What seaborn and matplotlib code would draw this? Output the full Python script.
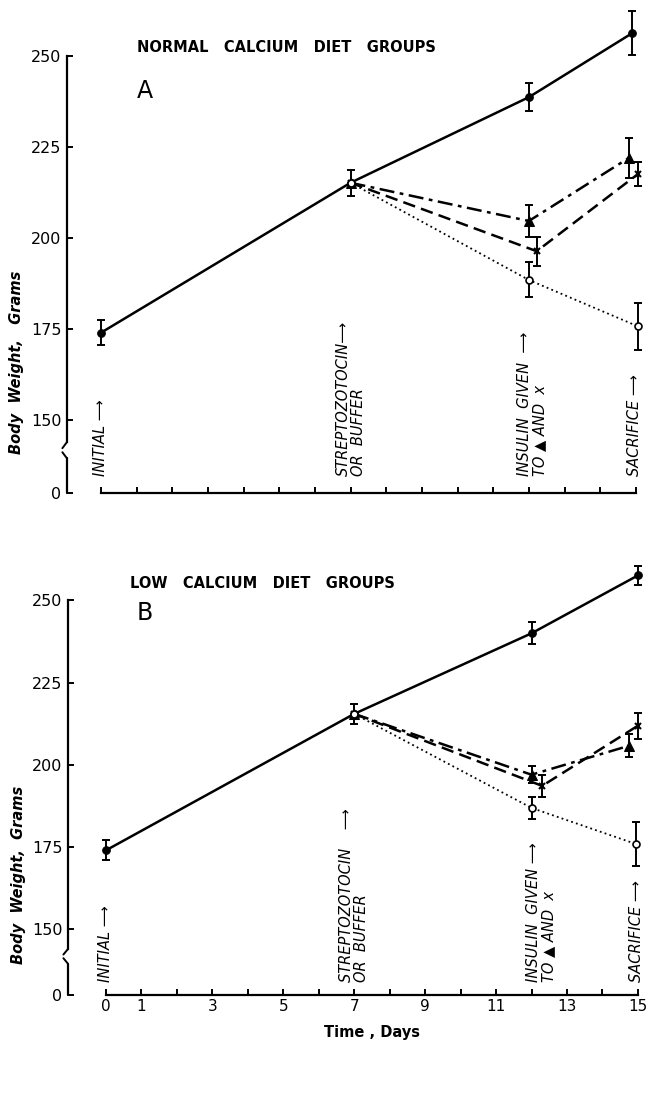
import matplotlib
matplotlib.use("Agg")
import matplotlib.pyplot as plt
import numpy as np
import seaborn as sns

sns.set_style("ticks")
plt.rcParams["font.family"] = ["DejaVu Sans"]
for k in ["text.color", "axes.labelcolor", "xtick.color", "ytick.color"]:
    plt.rcParams[k] = "black"

# ---- panel A : normal calcium diet groups ----
a_ctrl_day = [0, 7, 12, 14.9]
a_ctrl_wt = [174, 215.2, 238.7, 256.3]
a_ctrl_se = [3.4, 3.6, 3.9, 6.0]

a_tri_day = [7, 12, 14.8]
a_tri_wt = [215.2, 204.7, 222.0]
a_tri_se = [0, 4.4, 5.5]

a_x_day = [7, 12.22, 15.06]
a_x_wt = [215.2, 196.4, 217.6]
a_x_se = [0, 4.0, 3.2]

a_open_day = [7, 12, 15.05]
a_open_wt = [215.2, 188.5, 175.8]
a_open_se = [0, 4.8, 6.5]

# ---- panel B : low calcium diet groups ----
b_ctrl_day = [0, 7, 12, 15]
b_ctrl_wt = [174, 215.5, 240.0, 257.6]
b_ctrl_se = [3.0, 3.0, 3.3, 2.8]

b_tri_day = [7, 12, 14.75]
b_tri_wt = [215.5, 197.0, 205.8]
b_tri_se = [0, 2.5, 3.5]

b_x_day = [7, 12.3, 15]
b_x_wt = [215.5, 193.6, 211.9]
b_x_se = [0, 3.3, 4.0]

b_open_day = [7, 12, 14.95]
b_open_wt = [215.5, 186.9, 175.9]
b_open_se = [0, 3.3, 6.6]

ytick_vals = [130, 150, 175, 200, 225, 250]
ytick_labels = ["0", "150", "175", "200", "225", "250"]
xtick_vals = list(range(0, 16))
xtick_labels = ["0", "1", "", "3", "", "5", "", "7", "", "9", "", "11", "", "13", "", "15"]

styles = {
    "ctrl": dict(linestyle="-", lw=1.8, marker="o", markersize=5.5, mfc="black"),
    "tri": dict(linestyle=(0, (6, 2.2, 1.5, 2.2)), lw=1.8, marker="^", markersize=6.5, mfc="black"),
    "x": dict(linestyle=(0, (5, 2.5)), lw=1.8, marker="x", markersize=5, mew=1.5, mfc="black"),
    "open": dict(linestyle=(0, (1, 1.8)), lw=1.3, marker="o", markersize=5, mfc="white", mew=1.2),
}


def draw_panel(ax, series, ylim, xlim, xlabels):
    for key, day, wt, se in series:
        sns.lineplot(x=day, y=wt, ax=ax, color="black", mec="black", sort=False,
                     errorbar=None, zorder=3, **styles[key])
        d = np.array(day)
        w = np.array(wt)
        s = np.array(se)
        m = s > 0
        ax.errorbar(d[m], w[m], yerr=s[m], fmt="none", ecolor="black",
                    elinewidth=1.4, capsize=2.6, capthick=1.4, zorder=2)
    ax.set_xlim(*xlim)
    ax.set_ylim(*ylim)
    sns.despine(ax=ax)
    ax.spines["left"].set_bounds(144, 250)
    ax.spines["bottom"].set_bounds(0, 15)
    for sp in ["left", "bottom"]:
        ax.spines[sp].set_linewidth(1.6)
        ax.spines[sp].set_color("black")
    # broken axis piece near zero
    x0 = xlim[0]
    ax.plot([x0, x0], [130, 139.5], color="black", lw=1.6, clip_on=False)
    ax.plot([x0, x0 - 0.13], [139.5, 141.2], color="black", lw=1.4, clip_on=False)
    ax.plot([x0, x0 - 0.13], [144, 142.3], color="black", lw=1.4, clip_on=False)
    ax.set_yticks(ytick_vals)
    ax.set_yticklabels(ytick_labels)
    ax.set_xticks(xtick_vals)
    if xlabels:
        ax.set_xticklabels(xtick_labels)
    else:
        ax.set_xticklabels([])
    ax.tick_params(axis="y", direction="in", length=4, width=1.4, pad=4, labelsize=11.5)
    ax.tick_params(axis="x", direction="in", length=4, width=1.4, pad=3, labelsize=11)
    ax.set_xlabel("")
    ax.set_ylabel("")


fig = plt.figure(figsize=(6.46, 10.98), dpi=100)
ax_a = fig.add_axes([67 / 646, 0.551, 576 / 646, 0.4444])
ax_b = fig.add_axes([68 / 646, 0.0938, 577 / 646, 0.3953])

draw_panel(ax_a, [("ctrl", a_ctrl_day, a_ctrl_wt, a_ctrl_se),
                  ("tri", a_tri_day, a_tri_wt, a_tri_se),
                  ("x", a_x_day, a_x_wt, a_x_se),
                  ("open", a_open_day, a_open_wt, a_open_se)],
           (130, 264), (-0.95, 15.2), False)
draw_panel(ax_b, [("ctrl", b_ctrl_day, b_ctrl_wt, b_ctrl_se),
                  ("tri", b_tri_day, b_tri_wt, b_tri_se),
                  ("x", b_x_day, b_x_wt, b_x_se),
                  ("open", b_open_day, b_open_wt, b_open_se)],
           (130, 262), (-1.07, 15.2), True)

ann = dict(rotation=90, va="bottom", ha="center", fontsize=10.5, style="italic",
           multialignment="left", linespacing=1.0)

# event labels, panel A
ax_a.text(0, 134.6, "INITIAL \u27f6", **ann)
ax_a.text(7, 134.6, "STREPTOZOTOCIN\u27f6\nOR  BUFFER", **ann)
ax_a.text(12.1, 134.6, "INSULIN  GIVEN  \u27f6\nTO \u25b2 AND  x", **ann)
ax_a.text(14.95, 134.6, "SACRIFICE \u27f6", **ann)

# event labels, panel B
ax_b.text(0, 133.9, "INITIAL \u27f6", **ann)
ax_b.text(7, 133.9, "STREPTOZOTOCIN    \u27f6\nOR  BUFFER", **ann)
ax_b.text(12.28, 133.9, "INSULIN  GIVEN \u27f6\nTO \u25b2 AND  x", **ann)
ax_b.text(14.95, 133.9, "SACRIFICE \u27f6", **ann)

fig.text(137 / 646, 1 - 47 / 1098, "NORMAL   CALCIUM   DIET   GROUPS",
         fontsize=10.5, weight="bold", va="center", ha="left")
fig.text(137 / 646, 1 - 91 / 1098, "A", fontsize=17, va="center", ha="left")
fig.text(130 / 646, 1 - 583 / 1098, "LOW   CALCIUM   DIET   GROUPS",
         fontsize=10.5, weight="bold", va="center", ha="left")
fig.text(137 / 646, 1 - 613 / 1098, "B", fontsize=17, va="center", ha="left")

fig.text(17 / 646, 1 - 362 / 1098, "Body  Weight,   Grams", rotation=90,
         fontsize=10.5, style="italic", weight="bold", va="center", ha="center")
fig.text(19 / 646, 1 - 875 / 1098, "Body  Weight,  Grams", rotation=90,
         fontsize=10.5, style="italic", weight="bold", va="center", ha="center")
fig.text(372 / 646, 1 - 1033 / 1098, "Time , Days", fontsize=10.5, weight="bold",
         va="center", ha="center")

plt.savefig("out.png", dpi=100)
